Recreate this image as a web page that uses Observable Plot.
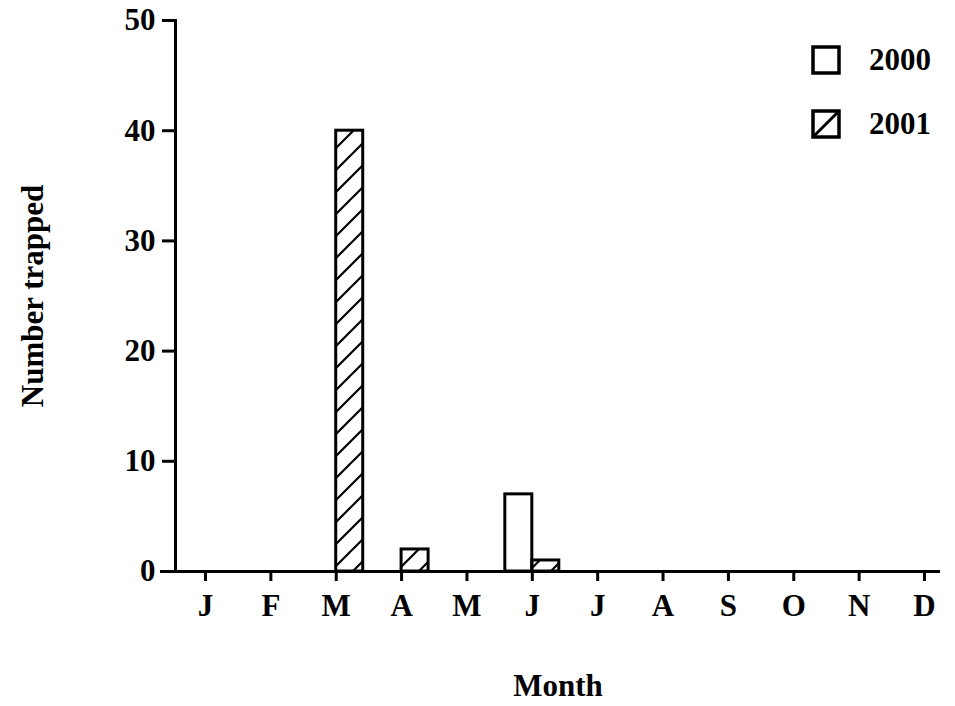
<!DOCTYPE html>
<html>
<head>
<meta charset="utf-8">
<script src="https://cdn.jsdelivr.net/npm/d3@7"></script>
<script src="https://cdn.jsdelivr.net/npm/@observablehq/plot@0.6"></script>
<style>
  html, body { margin: 0; padding: 0; background: #fff; }
  #wrap { position: relative; width: 955px; height: 706px; font-family: "Liberation Serif", "Times New Roman", serif; font-weight: bold; }
  #legend { position: absolute; left: 811px; top: 45px; }
  .row { display: flex; align-items: center; height: 30px; margin-bottom: 34px; }
  .row span { font-size: 31px; margin-left: 28px; line-height: 30px; }
</style>
</head>
<body>
<div id="wrap"></div>
<script>
const months = [1,2,3,4,5,6,7,8,9,10,11,12];
const monthLabels = ["J","F","M","A","M","J","J","A","S","O","N","D"];
const years = ["2000", "2001"];
const trapped2000 = [0,0,0,0,0,7,0,0,0,0,0,0];
const trapped2001 = [0,0,40,2,0,1,0,0,0,0,0,0];
const yTicks = [0,10,20,30,40,50];

const barW = 0.413;
const data = [];
months.forEach((m, i) => {
  if (trapped2000[i] > 0) data.push({year: "2000", x1: m - barW, x2: m, v: trapped2000[i]});
  if (trapped2001[i] > 0) data.push({year: "2001", x1: m, x2: m + barW, v: trapped2001[i]});
});

const font = "Liberation Serif, Times New Roman, serif";
const chart = Plot.plot({
  width: 955,
  height: 706,
  marginLeft: 175,
  marginRight: 15,
  marginTop: 20,
  marginBottom: 135,
  style: {fontFamily: font, fontWeight: "bold", fontSize: "31px", color: "#000", background: "#fff"},
  x: {domain: [0.541, 12.245]},
  y: {domain: [0, 50]},
  marks: [
    Plot.rectY(data, {x1: "x1", x2: "x2", y1: 0, y2: "v",
      fill: d => d.year === "2000" ? "white" : "url(#hatch)",
      stroke: "black", strokeWidth: 3}),
    Plot.frame({anchor: "left", stroke: "black", strokeWidth: 3}),
    Plot.ruleY([0], {stroke: "black", strokeWidth: 3, insetLeft: -15}),
    Plot.axisX({ticks: months, tickFormat: (d, i) => monthLabels[d - 1], tickSize: 10, tickPadding: 12,
      strokeWidth: 3, fontSize: 31, fontWeight: "bold",
      label: "Month", labelAnchor: "center", labelArrow: "none", labelOffset: 124}),
    Plot.axisY({ticks: yTicks, tickSize: 13, tickPadding: 7, strokeWidth: 3, fontSize: 31, fontWeight: "bold",
      label: "Number trapped", labelAnchor: "center", labelArrow: "none", labelOffset: 155})
  ]
});

const ns = "http://www.w3.org/2000/svg";
function addHatch(svg) {
  const defs = document.createElementNS(ns, "defs");
  defs.innerHTML = `<pattern id="hatch" patternUnits="userSpaceOnUse" width="22" height="22">
    <path d="M-2,24 L24,-2 M-6,6 L6,-6 M16,28 L28,16" stroke="black" stroke-width="2.2"/></pattern>`;
  svg.insertBefore(defs, svg.firstChild);
}
addHatch(chart);
document.getElementById("wrap").appendChild(chart);

const legend = document.createElement("div");
legend.id = "legend";
years.forEach(y => {
  const row = document.createElement("div");
  row.className = "row";
  const inner = y === "2001" ? '<line x1="2" y1="28" x2="28" y2="2" stroke="black" stroke-width="3"/>' : "";
  row.innerHTML = `<svg width="30" height="30"><rect x="2" y="2" width="26" height="26" fill="white" stroke="black" stroke-width="3.5"/>${inner}</svg><span>${y}</span>`;
  legend.appendChild(row);
});
document.getElementById("wrap").appendChild(legend);
</script>
</body>
</html>
